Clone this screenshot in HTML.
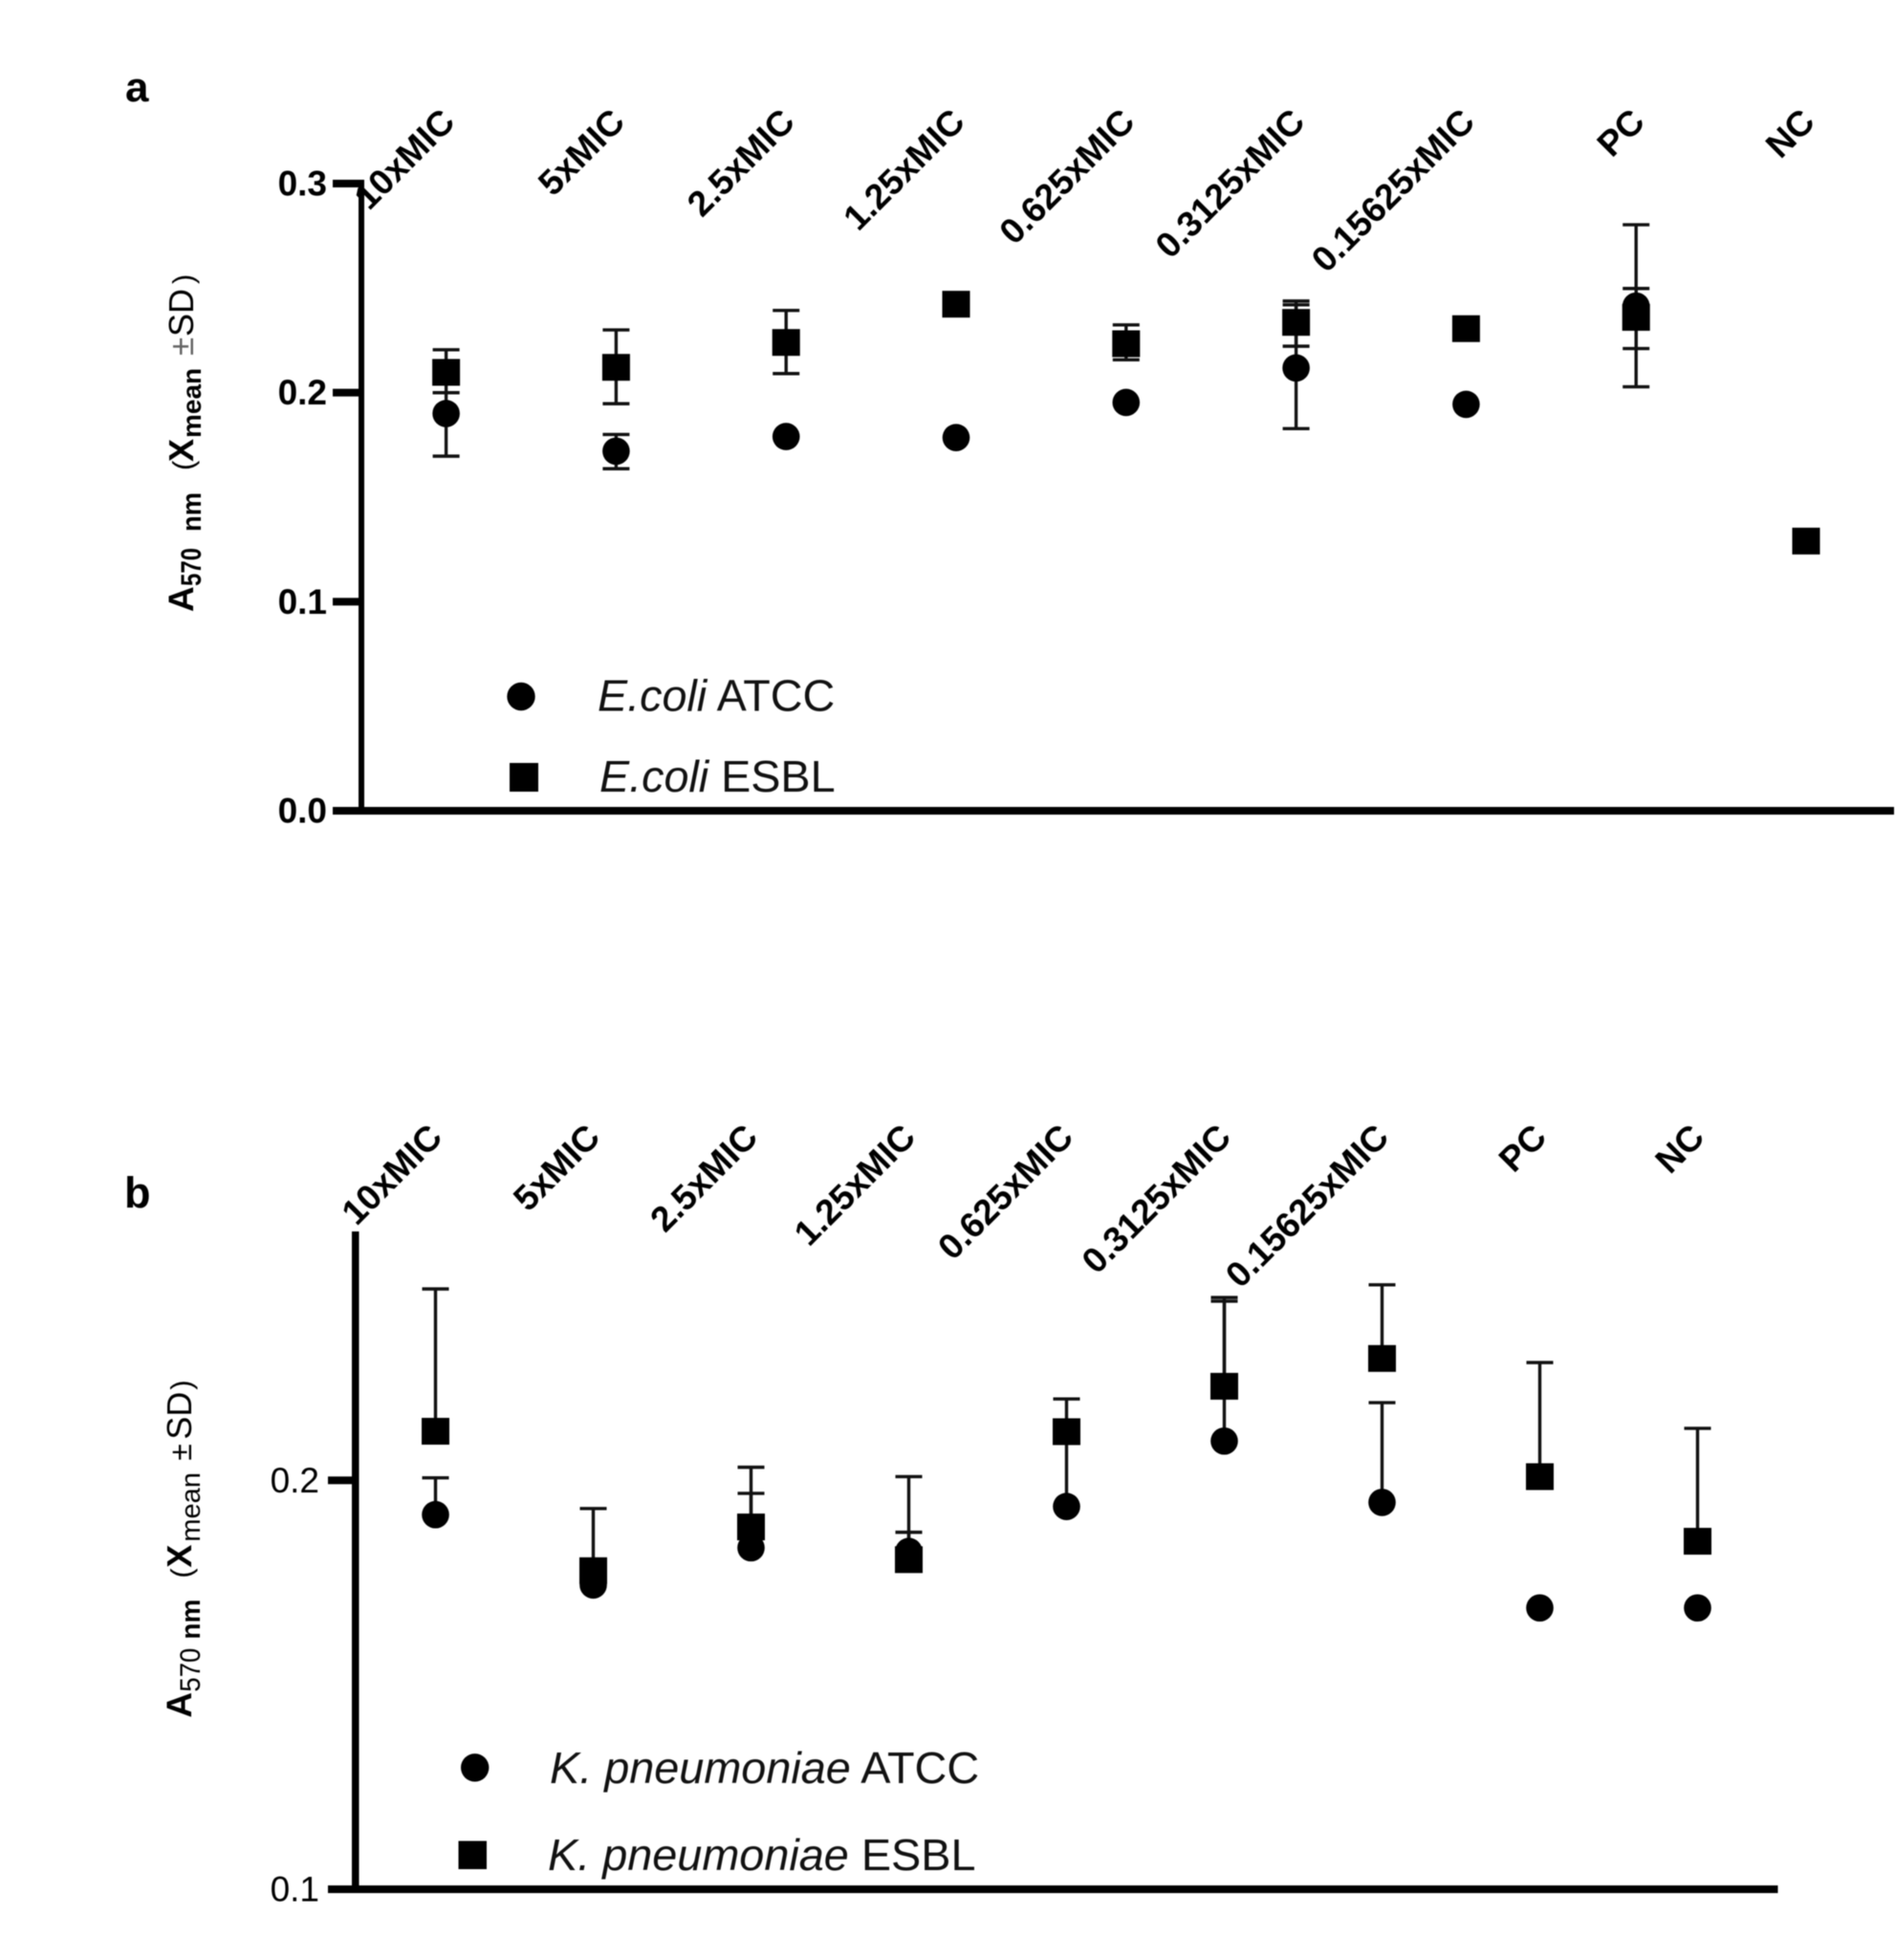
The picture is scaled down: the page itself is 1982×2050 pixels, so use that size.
<!DOCTYPE html>
<html lang="en">
<head>
<meta charset="utf-8">
<title>Absorbance at 570 nm by MIC dilution</title>
<style>
html,body{margin:0;padding:0;background:#fff;}
svg{display:block;font-family:"Liberation Sans",Arial,sans-serif;filter:blur(0.5px);}
</style>
</head>
<body>
<svg id="fig" xmlns="http://www.w3.org/2000/svg" width="1982" height="2050" viewBox="0 0 1982 2050">
  <rect x="0" y="0" width="1982" height="2050" fill="#fff"/>

  <text x="131" y="106" font-size="44" font-weight="bold">a</text>
  <text x="130" y="1263" font-size="45" font-weight="bold">b</text>

  <text transform="translate(202,640) rotate(-90)" font-size="35" fill="#000">
    <tspan x="0" y="0" font-weight="bold" font-size="37">A</tspan>
    <tspan x="27" y="8" font-weight="bold" font-size="30" textLength="40" lengthAdjust="spacingAndGlyphs">570</tspan>
    <tspan x="84" y="8" font-weight="bold" font-size="29" textLength="41" lengthAdjust="spacingAndGlyphs">nm</tspan>
    <tspan x="148" y="0" font-size="31">(</tspan>
    <tspan x="157" y="0" font-weight="bold" font-size="36">X</tspan>
    <tspan x="182" y="8" font-weight="bold" font-size="28">mean</tspan>
    <tspan x="268" y="0" font-size="35" fill="#666">±</tspan>
    <tspan x="288" y="0" font-size="36" textLength="50" lengthAdjust="spacingAndGlyphs">SD</tspan>
    <tspan x="343" y="0" font-size="31">)</tspan>
  </text>
  <text transform="translate(200,1796.6) rotate(-90)" font-size="35" fill="#000">
    <tspan x="0" y="0" font-weight="bold" font-size="37">A</tspan>
    <tspan x="27" y="9" font-size="30" textLength="46" lengthAdjust="spacingAndGlyphs">570</tspan>
    <tspan x="82" y="9" font-weight="bold" font-size="29" textLength="42" lengthAdjust="spacingAndGlyphs">nm</tspan>
    <tspan x="146" y="0" font-size="31">(</tspan>
    <tspan x="157" y="0" font-weight="bold" font-size="36">X</tspan>
    <tspan x="184" y="9" font-size="29">mean</tspan>
    <tspan x="269" y="0" font-size="32">±</tspan>
    <tspan x="291" y="0" font-size="36" textLength="50" lengthAdjust="spacingAndGlyphs">SD</tspan>
    <tspan x="343" y="0" font-size="31">)</tspan>
  </text>

  <circle cx="545" cy="728.5" r="14.7" fill="#000"/>
  <rect x="533" y="798" width="30" height="30" fill="#000"/>
  <text x="625" y="743.5" font-size="46.7" fill="#111"><tspan font-style="italic">E.coli</tspan> ATCC</text>
  <text x="627" y="828" font-size="46.7" fill="#111"><tspan font-style="italic">E.coli</tspan> ESBL</text>

  <circle cx="496.7" cy="1848.8" r="14.7" fill="#000"/>
  <rect x="479.5" y="1925.5" width="29.5" height="29.5" fill="#000"/>
  <text x="575" y="1865" font-size="46.8" fill="#111"><tspan font-style="italic">K. pneumoniae</tspan> ATCC</text>
  <text x="573" y="1956" font-size="46.8" fill="#111"><tspan font-style="italic">K. pneumoniae</tspan> ESBL</text>

  <g id="panel-a"></g>
  <g id="panel-b"></g>
</svg>

<script>
const categories = ["10xMIC","5xMIC","2.5xMIC","1.25xMIC","0.625xMIC","0.3125xMIC","0.15625xMIC","PC","NC"];

const ticksA = [0.0, 0.1, 0.2, 0.3];
const tickLabelsA = ["0.0","0.1","0.2","0.3"];
const atccA     = [0.190, 0.172, 0.179, 0.1785, 0.1953, 0.2118, 0.1944, 0.2414, null];
const atccLowA  = [0.1696, 0.1636, null, null, null, 0.1828, null, 0.2028, null];
const atccHighA = [0.200, 0.180, null, null, null, 0.2438, null, 0.2803, null];
const esblA     = [0.2097, 0.2121, 0.224, 0.2423, 0.2234, 0.2336, 0.2306, 0.236, 0.129];
const esblLowA  = [0.200, 0.1947, 0.2091, null, 0.2157, 0.2222, null, 0.2211, null];
const esblHighA = [0.2205, 0.230, 0.2393, null, 0.2324, 0.242, null, 0.2498, null];

const ticksB = [0.1, 0.2];
const tickLabelsB = ["0.1","0.2"];
const atccB     = [0.1916, 0.1744, 0.1835, 0.1826, 0.1936, 0.2096, 0.1946, 0.1688, 0.1688];
const atccHighB = [0.2006, null, 0.1968, 0.1873, 0.2119, 0.2447, 0.219, null, null];
const esblB     = [0.212, 0.1779, 0.1886, 0.1806, 0.2119, 0.223, 0.2298, 0.2009, 0.1851];
const esblHighB = [0.2468, 0.1931, 0.2032, 0.2009, 0.2199, 0.2438, 0.2478, 0.2288, 0.2127];
const noValues  = [null, null, null, null, null, null, null, null, null];

const SVG_NS = "http://www.w3.org/2000/svg";

function make(parent, tag, props) {
  const el = document.createElementNS(SVG_NS, tag);
  for (const key in props) {
    el.setAttribute(key, props[key]);
  }
  parent.appendChild(el);
  return el;
}

function drawBar(parent, seriesName, i, xPos, yScale, means, lows, highs, capHalf, stemW) {
  const cx = xPos(i);
  const m = means[i];
  const stemTop = highs[i] !== null ? yScale(highs[i]) : yScale(m);
  const stemBottom = lows[i] !== null ? yScale(lows[i]) : yScale(m);
  if (highs[i] === null && lows[i] === null) {
    return;
  }
  const stem = make(parent, "line", {x1: cx, x2: cx, y1: stemTop, y2: stemBottom, stroke: "#111", "stroke-width": stemW});
  
  
  if (highs[i] !== null) {
    const capHi = make(parent, "line", {x1: cx - capHalf, x2: cx + capHalf, y1: stemTop, y2: stemTop, stroke: "#111", "stroke-width": 3.4});
    
    
  }
  if (lows[i] !== null) {
    const capLo = make(parent, "line", {x1: cx - capHalf, x2: cx + capHalf, y1: stemBottom, y2: stemBottom, stroke: "#111", "stroke-width": 3.4});
    
    
  }
}

function drawPanel(root, opt) {
  const xPos = opt.xPos;
  const yScale = opt.yScale;
  const n = categories.length;

  // axes
  const yAxis = make(root, "rect", {x: opt.axisX, y: opt.axisTop, width: opt.axisW, height: opt.axisBottom - opt.axisTop, fill: "#000"});
  
  

  opt.ticks.forEach(function (t, k) {
    const yy = yScale(t);
    const tick = make(root, "rect", {x: opt.tickStart, y: yy - 4, width: opt.axisX + opt.axisW - opt.tickStart, height: 8, fill: "#000"});
    
    
    const lab = make(root, "text", {x: opt.tickLabelX, y: yy + opt.tickLabelDy, "text-anchor": "end", "font-size": opt.tickFont, "font-weight": opt.tickWeight, fill: "#000"});
    lab.textContent = opt.tickLabels[k];
    
    
  });

  const xAxis = make(root, "rect", {x: opt.tickStart, y: opt.axisBottom - 4, width: opt.axisEnd - opt.tickStart, height: 8, fill: "#000"});
  
  

  // category labels
  for (let i = 0; i < n; i++) {
    const ax = xPos(i) + opt.catDx;
    const cat = make(root, "text", {x: ax, y: opt.catY, "text-anchor": "end", "font-size": 37, "font-weight": "bold", fill: "#000", transform: "rotate(-45 " + ax + " " + opt.catY + ")"});
    cat.textContent = categories[i];
    
    
  }

  // series
  for (let i = 0; i < n; i++) {
    if (opt.atcc[i] !== null) {
      drawBar(root, opt.id + '-atcc', i, xPos, yScale, opt.atcc, opt.atccLow, opt.atccHigh, 14, 3.4);
    }
    drawBar(root, opt.id + '-esbl', i, xPos, yScale, opt.esbl, opt.esblLow, opt.esblHigh, 14, 3.4);
  }
  for (let i = 0; i < n; i++) {
    if (opt.atcc[i] !== null) {
      const c = make(root, "circle", {cx: xPos(i), cy: yScale(opt.atcc[i]), r: 14.3, fill: "#000"});
      
      
    }
  }
  for (let i = 0; i < n; i++) {
    if (opt.esbl[i] !== null) {
      const s = make(root, "rect", {x: xPos(i) - 14.5, y: yScale(opt.esbl[i]) - 14, width: 29, height: 28, fill: "#000"});
      
      
    }
  }
}

drawPanel(document.getElementById("panel-a"), {
  id: "panel-a",
  xPos: function (i) { return 466.6 + i * 177.8; },
  yScale: function (v) { return 848 - v * 2186.7; },
  ticks: ticksA, tickLabels: tickLabelsA,
  atcc: atccA, atccLow: atccLowA, atccHigh: atccHighA,
  esbl: esblA, esblLow: esblLowA, esblHigh: esblHighA,
  axisX: 375, axisW: 6, axisTop: 189, axisBottom: 848, axisEnd: 1981,
  tickStart: 348, tickLabelX: 342, tickLabelDy: 12.5, tickFont: 37, tickWeight: "bold",
  catDx: 11, catY: 129.5
});

drawPanel(document.getElementById("panel-b"), {
  id: "panel-b",
  xPos: function (i) { return 455.5 + i * 165; },
  yScale: function (v) { return 1976 - (v - 0.1) * 4277; },
  ticks: ticksB, tickLabels: tickLabelsB,
  atcc: atccB, atccLow: noValues, atccHigh: atccHighB,
  esbl: esblB, esblLow: noValues, esblHigh: esblHighB,
  axisX: 368, axisW: 7.5, axisTop: 1288, axisBottom: 1976, axisEnd: 1859.5,
  tickStart: 343, tickLabelX: 334, tickLabelDy: 12.5, tickFont: 37, tickWeight: "normal",
  catDx: 9, catY: 1191.5
});
</script>
</body>
</html>
